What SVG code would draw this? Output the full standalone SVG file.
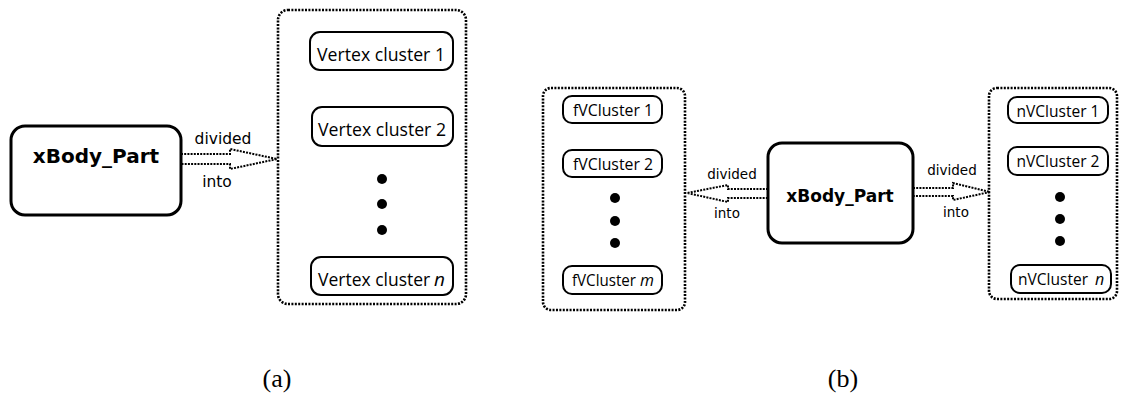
<svg xmlns="http://www.w3.org/2000/svg" width="1128" height="402" viewBox="0 0 1128 402">
<style>
.main{fill:#fff;stroke:#000;stroke-width:3}
.clu{fill:none;stroke:#000;stroke-width:2.6;stroke-dasharray:2 1.4}
.box{fill:#fff;stroke:#000;stroke-width:2}
.bt{font-family:"DejaVu Sans",sans-serif;font-weight:bold;text-anchor:middle;fill:#000}
.st{font-family:"Open Sans","DejaVu Sans",sans-serif;text-anchor:middle;fill:#000}
.sl{font-family:"Open Sans","DejaVu Sans",sans-serif;text-anchor:start;fill:#000}
.it{font-family:"Open Sans","DejaVu Sans",sans-serif;text-anchor:start;font-style:italic;fill:#000}
.lt{font-family:"DejaVu Sans",sans-serif;text-anchor:middle;fill:#000}
.cap{font-family:"Liberation Serif",serif;text-anchor:middle;fill:#000;font-size:26px}
.arr{fill:none;stroke:#000;stroke-width:2;stroke-dasharray:2 1.2}
.dot{fill:#000}
</style>
<rect width="1128" height="402" fill="#fff"/>
<g id="a-body"><rect class="main" x="11" y="126" width="170" height="89" rx="14"/><text class="bt" x="96" y="163" font-size="20">xBody_Part</text></g>
<g id="a-clusters">
<rect class="clu" x="278" y="10" width="188" height="294" rx="10"/>
<g id="a-vc1"><rect class="box" x="310" y="32" width="143" height="38" rx="10"/><text class="st" x="381" y="61" font-size="19" textLength="128" lengthAdjust="spacingAndGlyphs">Vertex cluster 1</text></g>
<g id="a-vc2"><rect class="box" x="312" y="107" width="141" height="39" rx="10"/><text class="st" x="382" y="136" font-size="19" textLength="128" lengthAdjust="spacingAndGlyphs">Vertex cluster 2</text></g>
<g id="a-dots"><circle class="dot" cx="382" cy="179" r="5"/><circle class="dot" cx="382" cy="204" r="5"/><circle class="dot" cx="382" cy="230" r="5"/></g>
<g id="a-vcn"><rect class="box" x="311" y="257" width="142" height="38" rx="10"/><text class="sl" x="318" y="286" font-size="17.5">Vertex cluster</text><text class="it" x="434" y="286" font-size="19">n</text></g>
</g>
<g id="b-body"><rect class="main" x="768" y="143" width="145" height="100" rx="14"/><text class="bt" x="840" y="202" font-size="17">xBody_Part</text></g>
<g id="b-fv">
<rect class="clu" x="543" y="88" width="142" height="222" rx="8"/>
<g id="b-fv1"><rect class="box" x="563" y="96" width="99" height="27" rx="9"/><text class="st" x="613" y="116" font-size="16" textLength="80" lengthAdjust="spacingAndGlyphs">fVCluster 1</text></g>
<g id="b-fv2"><rect class="box" x="563" y="150" width="99" height="27" rx="9"/><text class="st" x="613" y="170" font-size="16" textLength="80" lengthAdjust="spacingAndGlyphs">fVCluster 2</text></g>
<g id="b-fdots"><circle class="dot" cx="615" cy="198" r="5"/><circle class="dot" cx="615" cy="221" r="5"/><circle class="dot" cx="615" cy="243" r="5"/></g>
<g id="b-fvm"><rect class="box" x="563" y="266" width="99" height="28" rx="9"/><text class="sl" x="572" y="286" font-size="16" textLength="64" lengthAdjust="spacingAndGlyphs">fVCluster</text><text class="it" x="640" y="286" font-size="16">m</text></g>
</g>
<g id="b-nv">
<rect class="clu" x="989" y="88" width="128" height="211" rx="8"/>
<g id="b-nv1"><rect class="box" x="1008" y="97" width="100" height="26" rx="9"/><text class="st" x="1058" y="117" font-size="16" textLength="83" lengthAdjust="spacingAndGlyphs">nVCluster 1</text></g>
<g id="b-nv2"><rect class="box" x="1008" y="147" width="100" height="28" rx="9"/><text class="st" x="1058" y="167" font-size="16" textLength="83" lengthAdjust="spacingAndGlyphs">nVCluster 2</text></g>
<g id="b-ndots"><circle class="dot" cx="1060" cy="197" r="5"/><circle class="dot" cx="1060" cy="219" r="5"/><circle class="dot" cx="1060" cy="241" r="5"/></g>
<g id="b-nvn"><rect class="box" x="1011" y="265" width="100" height="28" rx="9"/><text class="sl" x="1018" y="285" font-size="16" textLength="70" lengthAdjust="spacingAndGlyphs">nVCluster</text><text class="it" x="1095" y="285" font-size="16">n</text></g>
</g>
<g id="connectors">
<path class="arr" d="M181,154 H230 V149 L277,159 L230,169 V164 H181"/>
<text class="lt" x="223" y="144" font-size="15.5">divided</text>
<text class="lt" x="217" y="187" font-size="15.5">into</text>
<path class="arr" d="M768,189 H728 V185 L687,193 L728,202 V198 H768"/>
<text class="lt" x="732" y="179" font-size="13.5">divided</text>
<text class="lt" x="727" y="218" font-size="13.5">into</text>
<path class="arr" d="M913,188 H953 V183 L990,192 L953,200 V196 H913"/>
<text class="lt" x="952" y="175" font-size="13.5">divided</text>
<text class="lt" x="956" y="217" font-size="13.5">into</text>
</g>
<text class="cap" x="277" y="387">(a)</text>
<text class="cap" x="843" y="387">(b)</text>
</svg>
